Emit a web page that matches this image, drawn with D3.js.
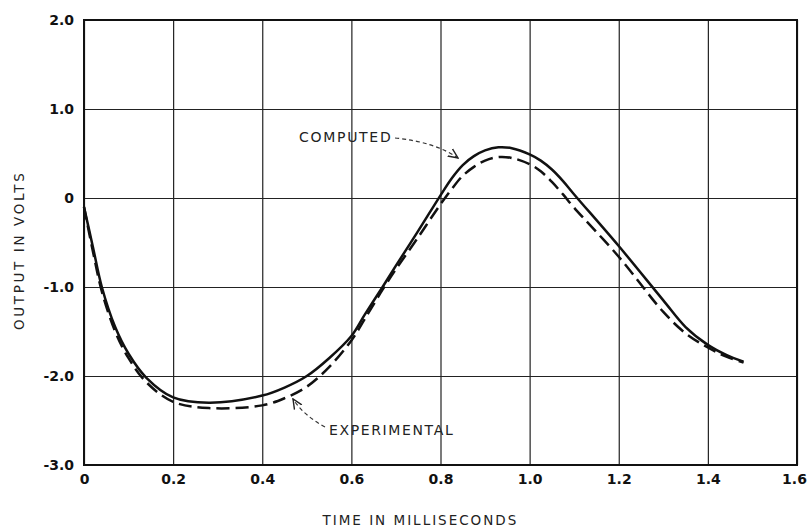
<!DOCTYPE html>
<html>
<head>
<meta charset="utf-8">
<script src="https://cdn.jsdelivr.net/npm/d3@7"></script>
<style>
  body { margin: 0; background: #fff; }
  svg { display: block; }
  .tick text { font-family: "DejaVu Sans", sans-serif; font-size: 14px; font-weight: bold; fill: #111; }
  .lbl { font-family: "DejaVu Sans", sans-serif; fill: #222; }
</style>
</head>
<body>
<script>
(function() {

    var timeMs = [0, 0.02, 0.04, 0.07, 0.1, 0.14, 0.2, 0.28, 0.4, 0.45, 0.5, 0.55, 0.6, 0.63, 0.67, 0.7, 0.75, 0.8, 0.825, 0.85, 0.875, 0.9, 0.93, 0.96, 1.0, 1.025, 1.05, 1.075, 1.1, 1.2, 1.3, 1.35, 1.4, 1.44, 1.48];
    var computed = [-0.1, -0.55, -1.0, -1.45, -1.75, -2.02, -2.24, -2.3, -2.22, -2.13, -2.0, -1.8, -1.55, -1.31, -1.0, -0.76, -0.37, 0.03, 0.22, 0.37, 0.47, 0.535, 0.57, 0.56, 0.49, 0.42, 0.32, 0.19, 0.04, -0.54, -1.15, -1.45, -1.65, -1.76, -1.84];
    var experimental = [-0.1, -0.6, -1.05, -1.5, -1.8, -2.07, -2.29, -2.36, -2.33, -2.25, -2.12, -1.9, -1.6, -1.36, -1.03, -0.8, -0.44, -0.07, 0.1, 0.25, 0.35, 0.42, 0.46, 0.45, 0.38, 0.3, 0.18, 0.04, -0.11, -0.66, -1.28, -1.52, -1.68, -1.78, -1.85];

    var xTicks = [0, 0.2, 0.4, 0.6, 0.8, 1.0, 1.2, 1.4, 1.6],
        xTickLabels = ["0", "0.2", "0.4", "0.6", "0.8", "1.0", "1.2", "1.4", "1.6"];
    var yTicks = [2, 1, 0, -1, -2, -3],
        yTickLabels = ["2.0", "1.0", "0", "-1.0", "-2.0", "-3.0"];

    var width = 807,
        height = 527,
        left = 84,
        right = 797,
        top = 20,
        bottom = 465;

    var svg = d3.select("body")
        .append("svg")
        .attr("width", width)
        .attr("height", height);

    var x = d3.scaleLinear().domain([0, 1.6]).range([left, right]);
    var y = d3.scaleLinear().domain([-3, 2]).range([bottom, top]);

    // grid + tick labels via axes
    var xAxis = svg.append("g")
        .attr("transform", "translate(0," + bottom + ")")
        .call(d3.axisBottom(x)
            .tickValues(xTicks)
            .tickSize(-(bottom - top))
            .tickPadding(9)
            .tickFormat(function(d, i){ return xTickLabels[i]; }));

    var yAxis = svg.append("g")
        .attr("transform", "translate(" + left + ",0)")
        .call(d3.axisLeft(y)
            .tickValues(yTicks)
            .tickSize(-(right - left))
            .tickPadding(10)
            .tickFormat(function(d, i){ return yTickLabels[i]; }));

    [xAxis, yAxis].forEach(function(ax){
        ax.select(".domain").remove();
        ax.selectAll(".tick line")
            .attr("stroke", "#222")
            .attr("stroke-width", 1.2);
    });

    // last x label sits against the right edge
    xAxis.selectAll(".tick text")
        .filter(function(d){ return d === 1.6; })
        .attr("dx", -3);

    svg.append("rect")
        .attr("x", left)
        .attr("y", top)
        .attr("width", right - left)
        .attr("height", bottom - top)
        .attr("fill", "none")
        .attr("stroke", "#111")
        .attr("stroke-width", 2);

    var line = d3.line()
        .x(function(d){ return x(d[0]); })
        .y(function(d){ return y(d[1]); })
        .curve(d3.curveCatmullRom.alpha(0.5));

    var compPts = timeMs.map(function(t, i){ return [t, computed[i]]; });
    var expPts = timeMs.map(function(t, i){ return [t, experimental[i]]; });

    svg.append("path")
        .attr("d", line(expPts))
        .attr("fill", "none")
        .attr("stroke", "#111")
        .attr("stroke-width", 2.5)
        .attr("stroke-dasharray", "13,6");

    svg.append("path")
        .attr("d", line(compPts))
        .attr("fill", "none")
        .attr("stroke", "#111")
        .attr("stroke-width", 2.5);

    // annotations
    var defs = svg.append("defs");
    defs.append("marker")
        .attr("id", "arr")
        .attr("viewBox", "0 0 10 10")
        .attr("refX", 9)
        .attr("refY", 5)
        .attr("markerWidth", 9)
        .attr("markerHeight", 9)
        .attr("orient", "auto")
        .append("path")
        .attr("d", "M0,1 L9,5 L0,9")
        .attr("fill", "none")
        .attr("stroke", "#222")
        .attr("stroke-width", 1.3);

    svg.append("text")
        .attr("class", "lbl")
        .attr("x", 299)
        .attr("y", 142)
        .attr("font-size", 14)
        .attr("letter-spacing", 1.3)
        .attr("textLength", 93)
        .text("COMPUTED");

    svg.append("path")
        .attr("d", "M395,138 Q435,142 458,158")
        .attr("fill", "none")
        .attr("stroke", "#333")
        .attr("stroke-width", 1.2)
        .attr("stroke-dasharray", "4,3")
        .attr("marker-end", "url(#arr)");

    svg.append("text")
        .attr("class", "lbl")
        .attr("x", 329)
        .attr("y", 435)
        .attr("font-size", 14)
        .attr("letter-spacing", 1.3)
        .attr("textLength", 125)
        .text("EXPERIMENTAL");

    svg.append("path")
        .attr("d", "M325,427 Q303,415 293,399")
        .attr("fill", "none")
        .attr("stroke", "#333")
        .attr("stroke-width", 1.2)
        .attr("stroke-dasharray", "4,3")
        .attr("marker-end", "url(#arr)");

    svg.append("text")
        .attr("class", "lbl")
        .attr("x", 420)
        .attr("y", 525)
        .attr("text-anchor", "middle")
        .attr("font-size", 13.5)
        .attr("letter-spacing", 1.2)
        .attr("textLength", 195)
        .text("TIME IN MILLISECONDS");

    svg.append("text")
        .attr("class", "lbl")
        .attr("transform", "translate(24,251) rotate(-90)")
        .attr("text-anchor", "middle")
        .attr("font-size", 13.5)
        .attr("letter-spacing", 1.2)
        .attr("textLength", 158)
        .text("OUTPUT IN VOLTS");

})();
</script>
</body>
</html>
